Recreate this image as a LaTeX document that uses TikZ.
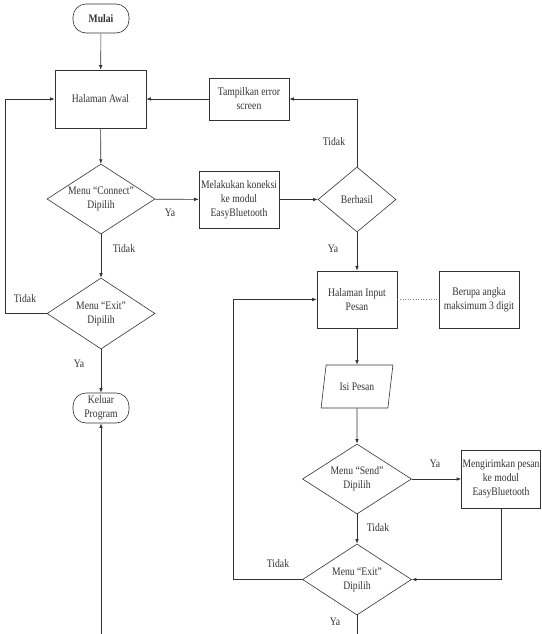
\documentclass[tikz,border=0pt]{standalone}
\usepackage{fontspec}
\setmainfont{Liberation Serif}[FakeStretch=0.84]
\usetikzlibrary{shapes.geometric,arrows.meta}
\begin{document}
\begin{tikzpicture}[x=1pt,y=-1pt,
  font=\fontsize{11.5}{14}\selectfont,
  every node/.style={text=black!80},
  box/.style={draw=black!80, line width=0.6pt, align=center, inner sep=0pt},
  term/.style={box, rounded corners=13pt, minimum width=56pt, minimum height=30pt},
  proc/.style={box, minimum width=80pt, minimum height=57pt},
  dec/.style={draw=black!80, line width=0.6pt, diamond, inner sep=0pt, minimum width=108pt, minimum height=70pt},
  io/.style={draw=black!80, line width=0.6pt, trapezium, trapezium left angle=70, trapezium right angle=110, trapezium stretches=true, minimum width=72pt, minimum height=43pt, inner sep=0pt},
  arr/.style={draw=black!80, line width=0.6pt, -{Latex[length=4.5pt,width=3.5pt]}},
  ln/.style={draw=black!80, line width=0.6pt},
  lbl/.style={inner sep=0pt}]
\useasboundingbox (0,0) rectangle (541,634);

\node[term, minimum height=29pt] (mulai) at (101,18.5) {\textbf{Mulai}};
\node[box, minimum width=91pt, minimum height=58pt] (awal) at (100.5,99) {Halaman Awal};
\node[box, minimum width=80pt, minimum height=42pt] (err) at (249,99) {Tampilkan error\\screen};
\node[dec, label={[align=center]center:Menu “Connect”\\Dipilih}] (conn) at (101,199) {};
\node[proc] (melak) at (239,199.5) {Melakukan koneksi\\ke modul\\EasyBluetooth};
\node[dec, minimum width=78pt, minimum height=65pt] (berh) at (357,199.5) {Berhasil};
\node[dec, minimum height=71pt, label={[align=center]center:Menu “Exit”\\Dipilih}] (exit1) at (101,313.5) {};
\node[term] (kel) at (101,408) {Keluar\\Program};
\node[proc] (inp) at (357,299.5) {Halaman Input\\Pesan};
\node[proc] (ber) at (479,299.5) {Berupa angka\\maksimum 3 digit};
\node[io] (isi) at (357,386.5) {Isi Pesan};
\node[dec, minimum width=109pt, label={[align=center]center:Menu “Send”\\Dipilih}] (send) at (357,479) {};
\node[box, minimum width=79pt, minimum height=58pt] (meng) at (501,479) {Mengirimkan pesan\\ke modul\\EasyBluetooth};
\node[dec, minimum width=109pt, minimum height=71pt, label={[align=center]center:Menu “Exit”\\Dipilih}] (exit2) at (357,579.5) {};

\coordinate (l1) at (5,313.5);
\coordinate (b1) at (101,634);
\coordinate (l2) at (233,579.5);
\coordinate (b2) at (357,634);

\draw[arr] (mulai) -- (awal);
\draw[arr] (awal) -- (conn);
\draw[arr] (conn) -- (melak);
\draw[arr] (melak) -- (berh);
\draw[arr] (berh.north) |- (err.east);
\draw[arr] (err) -- (awal);
\draw[arr] (conn) -- (exit1);
\draw[arr] (exit1.west) -- (l1) |- (awal.west);
\draw[arr] (exit1) -- (kel);
\draw[arr] (b1) -- (kel.south);
\draw[arr] (berh.south) -- (inp.north);
\draw[ln, dotted, draw=black!50] (inp) -- (ber);
\draw[arr] (inp) -- (isi);
\draw[arr] (isi) -- (send);
\draw[arr] (send) -- (meng);
\draw[arr] (send) -- (exit2);
\draw[arr] (meng.south) |- (exit2.east);
\draw[arr] (exit2.west) -- (l2) |- (inp.west);
\draw[ln] (exit2.south) -- (b2);

\node[lbl] (t1) at (170,213) {Ya};
\node[lbl] (t2) at (124,249) {Tidak};
\node[lbl] (t3) at (25,299) {Tidak};
\node[lbl] (t4) at (79,364) {Ya};
\node[lbl] (t5) at (334,142) {Tidak};
\node[lbl] (t6) at (333,249) {Ya};
\node[lbl] (t7) at (435,464) {Ya};
\node[lbl] (t8) at (378,528) {Tidak};
\node[lbl] (t9) at (278,564) {Tidak};
\node[lbl] (t10) at (335,622) {Ya};
\end{tikzpicture}
\end{document}
